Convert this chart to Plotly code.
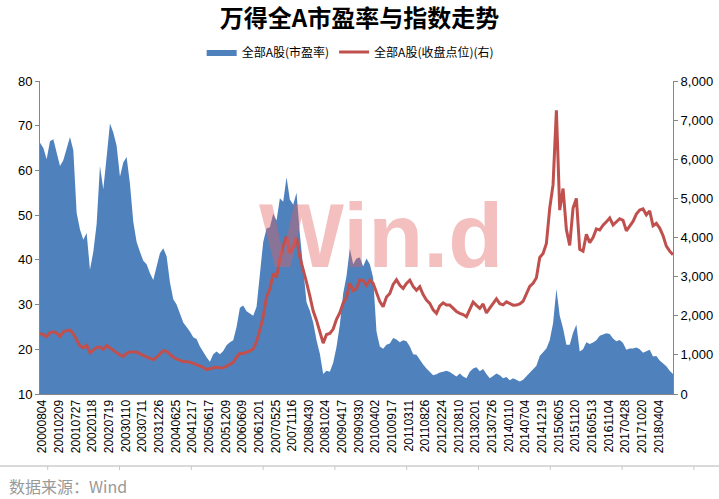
import plotly.graph_objects as go

# ---------------- data ----------------
tick_labels = [
    "20000804", "20010209", "20010727", "20020118", "20020719", "20030110",
    "20030711", "20031226", "20040625", "20041217", "20050617", "20051209",
    "20060609", "20061201", "20070525", "20071116", "20080430", "20081024",
    "20090417", "20090930", "20100402", "20100917", "20110311", "20110826",
    "20120224", "20120810", "20130201", "20130726", "20140110", "20140704",
    "20141219", "20150605", "20151120", "20160513", "20161104", "20170428",
    "20171020", "20180404",
]

# 全部A股 市盈率 (left axis), sampled 5 points per tick-label interval
pe_ratio = [
    66.2, 65.0, 62.5, 66.5, 67.0, 64.0, 61.0, 62.3, 65.0, 67.5,
    64.5, 50.5, 46.8, 44.5, 46.0, 37.8, 41.8, 48.0, 61.0, 55.8,
    63.0, 70.5, 68.5, 65.5, 58.6, 61.8, 63.0, 57.0, 48.5, 44.0,
    41.8, 39.8, 39.0, 37.0, 35.5, 38.3, 41.5, 42.6, 40.8, 35.0,
    31.2, 30.0, 27.9, 26.0, 25.0, 24.0, 22.7, 22.3, 20.6, 19.3,
    18.2, 17.2, 18.9, 19.5, 18.9, 19.6, 20.9, 21.6, 22.0, 25.0,
    29.3, 29.8, 28.5, 28.0, 27.5, 29.5, 36.5, 44.0, 47.0, 47.3,
    50.3, 48.8, 53.8, 53.0, 58.5, 53.5, 52.3, 55.0, 45.8, 38.8,
    30.5, 28.6, 26.0, 22.0, 19.0, 14.5, 15.2, 15.0, 17.0, 20.5,
    25.5, 32.5, 36.4, 42.5, 39.0, 40.3, 40.5, 38.5, 40.3, 39.0,
    36.0, 24.0, 20.6, 20.1, 21.0, 21.3, 22.5, 22.2, 21.6, 22.0,
    21.8, 20.6, 18.9, 18.8, 17.6, 16.6, 15.7, 15.0, 14.2, 14.4,
    14.8, 15.0, 15.2, 14.9, 14.4, 13.9, 14.6, 13.9, 13.5, 15.0,
    15.7, 16.0, 15.1, 15.6, 14.5, 13.5, 14.0, 14.6, 14.2, 13.5,
    13.8, 13.1, 13.5, 13.1, 12.8, 13.2, 14.0, 14.7, 15.7, 16.3,
    18.5, 19.4, 20.2, 22.0, 25.8, 33.5, 27.5, 24.7, 21.0, 21.0,
    23.7, 25.5, 19.5, 20.0, 21.6, 21.2, 21.5, 22.0, 23.0, 23.3,
    23.6, 23.4, 22.4, 21.8, 22.1, 21.4, 19.9, 20.2, 20.2, 20.4,
    20.0, 19.2, 19.6, 19.9, 18.4, 18.5, 17.5, 16.9, 16.2, 15.2, 14.5,
]

# 全部A股 收盘点位 (right axis)
close_index = [
    1550, 1520, 1465, 1570, 1590, 1560, 1470, 1590, 1620, 1635,
    1540, 1380, 1230, 1180, 1250, 1050, 1120, 1190, 1200, 1140,
    1240, 1180, 1120, 1055, 1000, 960, 1040, 1075, 1080, 1075,
    1025, 985, 950, 915, 875, 940, 1020, 1110, 1090, 1010,
    940, 895, 860, 830, 826, 815, 780, 750, 720, 680,
    625, 645, 675, 690, 665, 670, 710, 755, 810, 940,
    1040, 1038, 1060, 1100, 1150, 1340, 1640, 1980, 2480, 2680,
    3080, 2980, 3450, 3780, 4030, 3600, 3750, 4000, 3500, 3200,
    2850, 2500, 2120, 1880, 1610, 1300, 1520, 1550, 1660, 1910,
    2080, 2330, 2470, 2830, 2640, 2690, 2920, 2900, 2780, 2910,
    2830, 2610, 2360, 2230, 2480, 2570, 2800, 2920, 2780, 2700,
    2825, 2910, 2750, 2650, 2740, 2540, 2400, 2315, 2150, 2060,
    2250, 2330, 2272, 2272, 2190, 2110, 2060, 2030, 1975, 2170,
    2350, 2265, 2190, 2300, 2070, 2195, 2320, 2430, 2310, 2280,
    2355, 2310, 2270, 2272, 2300, 2370, 2540, 2750, 2830, 2970,
    3490, 3590, 3850, 4750, 5350, 7250, 4700, 5250, 4200, 3800,
    4750, 5000, 3700, 3650, 4080, 3870, 4000, 4220, 4190, 4315,
    4400, 4500, 4320, 4410, 4480, 4440, 4170, 4290, 4410, 4600,
    4700, 4730, 4580, 4680, 4300, 4360, 4240, 4050, 3780, 3650, 3560,
]

samples_per_label = 5
label_offset = 0.72  # first label sits a little right of the first sample

# ---------------- figure ----------------
W, H = 719, 499
ML, MR, MT, MB = 40, 46, 81, 105
PW, PH = W - ML - MR, H - MT - MB

def px_x(px):
    return (px - ML) / PW

def px_y(py):
    return (H - MB - py) / PH

x = list(range(len(pe_ratio)))
tickvals = [label_offset + samples_per_label * i for i in range(len(tick_labels))]

BLUE = "#4F81BD"
RED = "#C0504D"
AXIS = "#868686"
CJK = "Noto Sans CJK SC, sans-serif"
NUM = "Liberation Sans, Arial, sans-serif"

fig = go.Figure()
fig.add_trace(go.Scatter(
    x=x, y=pe_ratio, name="全部A股(市盈率)", mode="lines",
    line=dict(width=0, color=BLUE), fill="tozeroy", fillcolor=BLUE,
    yaxis="y",
))
fig.add_trace(go.Scatter(
    x=x, y=close_index, name="全部A股(收盘点位)(右)", mode="lines",
    line=dict(width=3, color=RED), yaxis="y2",
))

fig.update_layout(
    width=W, height=H,
    margin=dict(l=ML, r=MR, t=MT, b=MB, autoexpand=False),
    paper_bgcolor="white", plot_bgcolor="white",
    title=dict(text="万得全A市盈率与指数走势", x=0.5, xanchor="center",
               y=1 - 19 / H, yanchor="middle",
               font=dict(family=CJK, size=24, color="#000000", weight="bold")),
    showlegend=True,
    legend=dict(orientation="h", x=0.49, xanchor="center", y=px_y(52),
                yanchor="middle", font=dict(family=CJK, size=12, color="#000"),
                itemwidth=30, bgcolor="rgba(0,0,0,0)"),
    xaxis=dict(
        range=[0, len(pe_ratio) - 1], tickmode="array", tickvals=tickvals,
        ticktext=tick_labels, tickangle=-90, showgrid=False, zeroline=False,
        showline=True, linecolor=AXIS, ticks="", automargin=False,
        tickfont=dict(family=NUM, size=12, color="#000"),
    ),
    yaxis=dict(
        range=[10, 80], dtick=10, showgrid=False, zeroline=False,
        showline=True, linecolor=AXIS, ticks="outside", ticklen=4,
        tickcolor=AXIS, automargin=False,
        tickfont=dict(family=NUM, size=13, color="#000"),
    ),
    yaxis2=dict(
        range=[0, 8000], dtick=1000, tickformat=",d", overlaying="y",
        side="right", showgrid=False, zeroline=False, showline=True,
        linecolor=AXIS, ticks="outside", ticklen=4, tickcolor=AXIS,
        automargin=False,
        tickfont=dict(family=NUM, size=13, color="#000"),
    ),
    hovermode=False,
)

# watermark
fig.add_annotation(
    text="Win.d", xref="paper", yref="paper", x=px_x(381), y=px_y(236),
    xanchor="center", yanchor="middle", showarrow=False,
    font=dict(family=NUM, size=90, color="rgba(225,95,95,0.40)", weight="bold"),
)

# source note
fig.add_annotation(
    text="数据来源：Wind", xref="paper", yref="paper", x=px_x(7), y=px_y(486),
    xanchor="left", yanchor="middle", showarrow=False,
    font=dict(family=CJK, size=16, color="#999999"),
)

# page ruler line under the chart
shapes = [dict(type="line", xref="paper", yref="paper", x0=px_x(0), x1=px_x(W),
               y0=px_y(466), y1=px_y(466), line=dict(color="#B4B4B4", width=1))]
for k in range(10):
    xp = 47.7 + 71.8 * k
    shapes.append(dict(type="line", xref="paper", yref="paper", x0=px_x(xp),
                       x1=px_x(xp), y0=px_y(466), y1=px_y(470),
                       line=dict(color="#C8C8C8", width=1)))
fig.update_layout(shapes=shapes)

fig.write_html(
    "out.html",
    config={"displayModeBar": False, "staticPlot": True},
    post_script="document.body.style.margin='0';document.body.style.overflow='hidden';",
)
